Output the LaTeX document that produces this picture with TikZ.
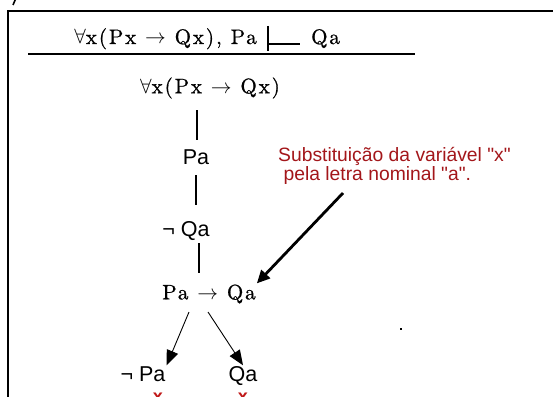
\documentclass[tikz,border=0pt]{standalone}
\usepackage{fontspec}
\usepackage{xcolor}
\usepackage{tikz}
\usetikzlibrary{positioning,arrows.meta,calc}
\newfontfamily\arialf{Liberation Sans}
\newfontfamily\formf{lmroman10-regular.otf}[LetterSpace=9, FakeBold=0.8]
\definecolor{notered}{HTML}{A3161A}
\definecolor{crossred}{HTML}{C01818}

\begin{document}
\begin{tikzpicture}[x=1pt, y=-1pt,
  fml/.style={font=\formf\fontsize{21}{24}\selectfont, inner sep=1pt},
  sans/.style={font=\arialf\fontsize{21.5}{24}\selectfont, inner sep=1pt},
  note/.style={font=\arialf\fontsize{19.3}{18}\selectfont, text=notered, align=left, inner sep=0pt},
  cross/.style={font=\arialf\bfseries\fontsize{18}{20}\selectfont, text=crossred, inner sep=0pt},
  link/.style={line width=1.3pt},
  branch/.style={-{Triangle[length=15pt,width=12pt]}, line width=0.9pt},
  pointer/.style={-{Triangle[length=13pt,width=12pt]}, line width=2.8pt},
]
\useasboundingbox (0,0) rectangle (553,396);
\clip (0,0) rectangle (553,396);

% frame, cut by the page edge
\draw[line width=1.8pt] (8,410) -- (8,11) -- (570,11);
\draw[line width=1.6pt] (13,5) -- (16,-2);

% the argument
\node[fml, anchor=base east] (hyp) at (258,44) {$\forall$x(Px $\rightarrow$ Qx), Pa};
\draw[line width=1.3pt] (268,26) -- (268,51) (268,44) -- (300,44);
\node[fml, anchor=base west] (concl) at (310,44) {Qa};
\draw[line width=1.8pt] (28,54) -- (415,54);

% the tree
\node[fml] (prem) at (210,88) {$\forall$x(Px $\rightarrow$ Qx)};
\node[sans] (pa) at (196,157) {Pa};
\node[sans] (nqa) at (186,231) {¬ Qa};
\node[fml] (cond) at (209,294) {Pa $\rightarrow$ Qa};
\node[sans] (npa) at (143,374) {¬ Pa};
\node[sans] (qa) at (243,376) {Qa};
\node[cross] (xl) at (158,398) {x};
\node[cross] (xr) at (243,398) {x};

\draw[link] (197,110) -- (197,140);
\draw[link] (196,175) -- (196,205);
\draw[link] (199,243) -- (199,273);
\draw[branch] (189,312) -- (npa.north east);
\draw[branch] (208,312) -- (qa.north);

% remark
\node[note, anchor=north west] (note) at (278,147) {Substituição da variável "x"\\ \ pela letra nominal "a".};
\coordinate (tail) at (343,193);
\draw[pointer] (tail) -- (cond.north east);

\fill (400,328) rectangle (402,330);
\end{tikzpicture}
\end{document}
